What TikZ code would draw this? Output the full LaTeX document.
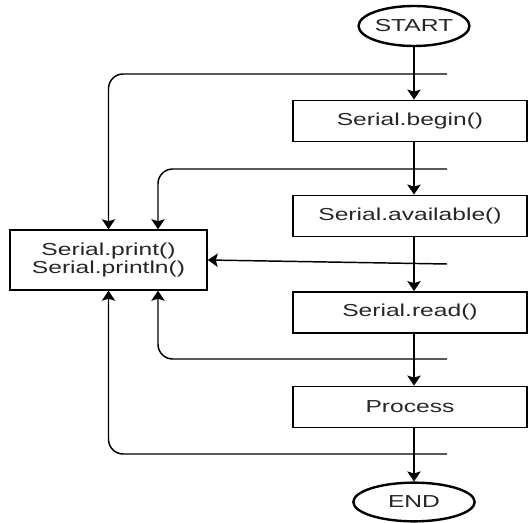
\documentclass[tikz,border=0pt]{standalone}
\usepackage{fontspec}
\setmainfont{Liberation Sans}
\usetikzlibrary{arrows.meta,shapes.geometric}
\newcommand{\wtxt}[1]{\scalebox{1.42}[1]{#1}}
\begin{document}
\begin{tikzpicture}[x=0.75pt,y=-0.75pt,
                    font=\fontsize{13}{15}\selectfont,text=black!85,
                    box/.style={draw,line width=1.1pt,minimum width=175.5pt,
                                minimum height=31pt,inner sep=0pt},
                    term/.style={draw,ellipse,line width=1.8pt,inner sep=0pt},
                    flow/.style={-{Stealth[length=7.5pt,width=10pt,inset=1.5pt]},
                                 line width=1.1pt},
                    back/.style={flow,rounded corners=11pt}]
\useasboundingbox (0,0) rectangle (528,523);
\node[term,minimum width=83pt,minimum height=30pt] (start) at (414,26) {\wtxt{START}};
\node[box] (begin) at (410,121) {\wtxt{Serial.begin()}};
\node[box] (avail) at (410,216) {\wtxt{Serial.available()}};
\node[box] (read) at (410,312.5) {\wtxt{Serial.read()}};
\node[box] (proc) at (410,407) {\wtxt{Process}};
\node[term,minimum width=91pt,minimum height=29pt] (end) at (414,502) {\wtxt{END}};
\node[box,minimum width=147.75pt,minimum height=45pt,align=center] (print) at (108.5,260)
  {\wtxt{Serial.print()}\\[-1pt]\wtxt{Serial.println()}};

% taps on the main line
\coordinate (t1) at (447,74);
\coordinate (t2) at (447,169);
\coordinate (t3) at (447,264);
\coordinate (t4) at (447,359);
\coordinate (t5) at (447,454);
\coordinate (lb) at (158,260);

\draw[flow] (start) -- (begin.north -| start);
\draw[flow] (begin.south -| start) -- (avail.north -| start);
\draw[flow] (avail.south -| start) -- (read.north -| start);
\draw[flow] (read.south -| start) -- (proc.north -| start);
\draw[flow] (proc.south -| start) -- (end);

\draw[back] (t1) -- (t1 -| print) -- (print.north);
\draw[back] (t2) -- (t2 -| lb) -- (lb |- print.north);
\draw[flow] (t3) -- (print.east);
\draw[back] (t4) -- (t4 -| lb) -- (lb |- print.south);
\draw[back] (t5) -- (t5 -| print) -- (print.south);

\end{tikzpicture}
\end{document}
